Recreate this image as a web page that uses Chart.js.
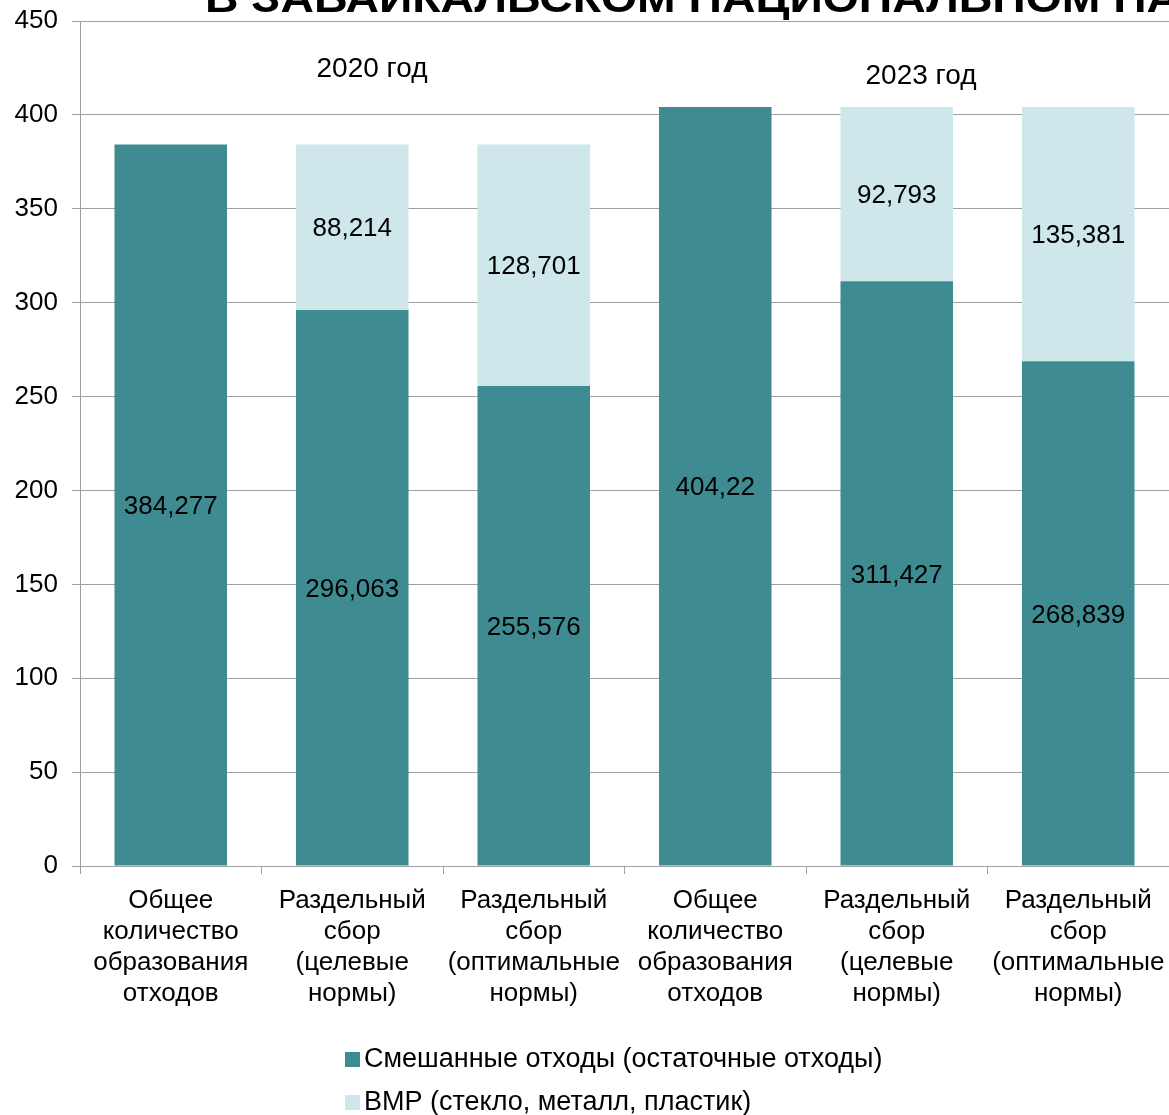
<!DOCTYPE html>
<html>
<head>
<meta charset="utf-8">
<script src="https://cdn.jsdelivr.net/npm/chart.js@4"></script>
<style>
  html, body { margin: 0; padding: 0; background: #fff; }
  #wrap { width: 1169px; height: 1115px; position: relative; }
</style>
</head>
<body>
<div id="wrap"><canvas id="wasteChart"></canvas></div>
<script>
  // Chart data
  const categories = [
    ['Общее', 'количество', 'образования', 'отходов'],
    ['Раздельный', 'сбор', '(целевые', 'нормы)'],
    ['Раздельный', 'сбор', '(оптимальные', 'нормы)'],
    ['Общее', 'количество', 'образования', 'отходов'],
    ['Раздельный', 'сбор', '(целевые', 'нормы)'],
    ['Раздельный', 'сбор', '(оптимальные', 'нормы)']
  ];
  const mixedWaste = [384.277, 296.063, 255.576, 404.22, 311.427, 268.839];
  const recyclables = [0, 88.214, 128.701, 0, 92.793, 135.381];
  const seriesNames = ['Смешанные отходы (остаточные отходы)', 'ВМР (стекло, металл, пластик)'];
  const yTicks = [0, 50, 100, 150, 200, 250, 300, 350, 400, 450];
  const yearNotes = [
    { text: '2020 год', x: 372, y: 69 },
    { text: '2023 год', x: 921, y: 76 }
  ];
  const titleText = 'В ЗАБАЙКАЛЬСКОМ НАЦИОНАЛЬНОМ ПАРКЕ';

  const DARK = '#3e8c92';
  const LIGHT = '#cde7ea';
  const FONT = "'Liberation Sans', Arial, sans-serif";

  const fmt = v => String(v).replace('.', ',');

  // labels inside bars, year notes, clipped title, legend
  const extras = {
    id: 'extras',
    afterDatasetsDraw(chart) {
      const ctx = chart.ctx;
      ctx.save();
      ctx.fillStyle = '#000';
      ctx.font = '26px ' + FONT;
      ctx.textAlign = 'center';
      ctx.textBaseline = 'middle';
      chart.data.datasets.forEach((ds, di) => {
        chart.getDatasetMeta(di).data.forEach((bar, i) => {
          if (!ds.data[i]) return;
          const mid = (bar.y + bar.base) / 2;
          ctx.fillText(fmt(ds.data[i]), bar.x, mid + 2);
        });
      });

      ctx.font = '28px ' + FONT;
      yearNotes.forEach(n => ctx.fillText(n.text, n.x, n.y));

      // title, cut off by the top edge
      ctx.font = 'bold 40px ' + FONT;
      ctx.textAlign = 'left';
      ctx.textBaseline = 'alphabetic';
      const w = ctx.measureText('В ЗАБАЙКАЛЬСКОМ НАЦИОНАЛЬНОМ ПА').width;
      ctx.translate(205, 12);
      ctx.scale(975 / w, 1);
      ctx.fillText(titleText, 0, 0);
      ctx.restore();

      // legend, one item per line
      ctx.save();
      ctx.font = '27px ' + FONT;
      ctx.textBaseline = 'middle';
      ctx.textAlign = 'left';
      chart.data.datasets.forEach((ds, di) => {
        const y = 1060 + di * 43;
        ctx.fillStyle = ds.backgroundColor;
        ctx.fillRect(345, y - 8, 15, 15);
        ctx.fillStyle = '#000';
        ctx.fillText(ds.label, 364, y);
      });
      ctx.restore();
    }
  };

  const ctx = document.getElementById('wasteChart').getContext('2d');

  new Chart(ctx, {
    type: 'bar',
    data: {
      labels: categories,
      datasets: [
        {
          label: seriesNames[0],
          data: mixedWaste,
          backgroundColor: DARK,
          barPercentage: 0.62,
          categoryPercentage: 1
        },
        {
          label: seriesNames[1],
          data: recyclables,
          backgroundColor: LIGHT,
          barPercentage: 0.62,
          categoryPercentage: 1
        }
      ]
    },
    options: {
      responsive: true,
      maintainAspectRatio: false,
      animation: false,
      layout: { padding: { top: 21, right: 0, left: 0, bottom: 99 } },
      scales: {
        x: {
          stacked: true,
          grid: { drawOnChartArea: false, offset: true, tickLength: 8, color: '#a0a0a0' },
          border: { color: '#a0a0a0' },
          ticks: {
            color: '#000',
            font: { family: FONT, size: 26, lineHeight: 1.2 },
            padding: 11,
            maxRotation: 0,
            autoSkip: false
          },
          afterFit: s => { s.height = 150; s.paddingLeft = 0; s.paddingRight = 0; }
        },
        y: {
          stacked: true,
          min: 0,
          max: 450,
          afterBuildTicks: s => { s.ticks = yTicks.map(v => ({ value: v })); },
          grid: { color: '#a0a0a0', tickLength: 8 },
          border: { color: '#a0a0a0' },
          ticks: {
            color: '#000',
            font: { family: FONT, size: 26 },
            padding: 14
          },
          afterFit: s => { s.width = 80; s.paddingTop = 0; s.paddingBottom = 0; }
        }
      },
      plugins: {
        legend: { display: false },
        tooltip: { enabled: false }
      }
    },
    plugins: [extras]
  });
</script>
</body>
</html>
